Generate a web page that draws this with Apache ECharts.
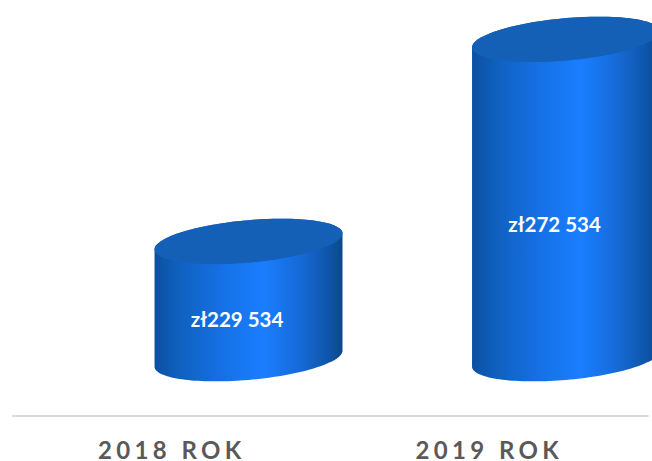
<!DOCTYPE html>
<html><head><meta charset="utf-8">
<script src="https://cdn.jsdelivr.net/npm/echarts@6/dist/echarts.min.js"></script>
<style>
html,body{margin:0;padding:0;background:#fff}
#c{width:652px;height:461px;overflow:hidden}
#c text{letter-spacing:4.4px}
#c text.v,#c text[fill="#fff"],#c text[fill="#ffffff"],#c text[style*="rgb(255"]{letter-spacing:0}
</style></head><body><div id="c"></div>
<script>
const categories = ['2018 ROK', '2019 ROK'];
const values = [229534, 272534];
const valueLabels = ['zł229 534', 'zł272 534'];
const cylinderBase = 204587;
const axisMin = 192379, axisMax = 280914;
const labelDrop = [19, 24.5];

const chart = echarts.init(document.getElementById('c'), null, {renderer: 'svg', width: 652, height: 461});
const sideFill = {type:'linear',x:0,y:0,x2:1,y2:0,colorStops:[
  {offset:0,color:'#0b50a0'},{offset:0.12,color:'#0f5fbd'},{offset:0.35,color:'#1670e4'},
  {offset:0.58,color:'#1a7eff'},{offset:0.78,color:'#1669d6'},{offset:0.92,color:'#0f56ab'},{offset:1,color:'#0c4889'}]};
const topFill = '#1360b6';

function ring(cx, cy, a, b, k, from, to) {
  const pts = [];
  for (let i = 0; i <= 72; i++) {
    const t = from + (to - from) * i / 72;
    pts.push([cx + a * Math.cos(t), cy - b * Math.sin(t) - k * a * Math.cos(t)]);
  }
  return pts;
}
function renderItem(params, api) {
  const i = api.value(0);
  const band = api.size([1, 0])[0];
  const top = api.coord([i, api.value(1)]);
  const bot = api.coord([i, cylinderBase]);
  const cx = top[0] + band * 0.2418;
  const a = band * 0.296, b = band * 0.067, k = 0.085;
  const topY = top[1], botY = bot[1];
  const lower = ring(cx, botY, a, b, k, Math.PI, 2 * Math.PI);
  const upper = ring(cx, topY, a, b, k, 0, Math.PI);
  return {type:'group', children:[
    {type:'polygon', shape:{points:lower.concat(upper)}, style:{fill:sideFill}},
    {type:'polygon', shape:{points:ring(cx, topY, a, b, k, 0, 2 * Math.PI)}, style:{fill:topFill}},
    {type:'text', style:{text:valueLabels[i], x:cx - band * 0.036, y:(topY + botY) / 2 + labelDrop[i],
      fill:'#fff', font:'bold 20.5px Lato, sans-serif', align:'center', verticalAlign:'middle'}}
  ]};
}
chart.setOption({
  animation:false,
  backgroundColor:'#fff',
  grid:{left:13,right:4,top:0,bottom:44},
  xAxis:{type:'category',data:categories,
    axisLine:{lineStyle:{color:'#d9d9d9',width:2}},axisTick:{show:false},
    axisLabel:{color:'#595959',fontFamily:'Lato',fontWeight:'bold',fontSize:24,lineHeight:24,margin:21}},
  yAxis:{type:'value',min:axisMin,max:axisMax,show:false},
  series:[{type:'custom',clip:false,renderItem,encode:{x:0,y:1},
    data:values.map((v,i)=>[i,v])}]
});
</script></body></html>
